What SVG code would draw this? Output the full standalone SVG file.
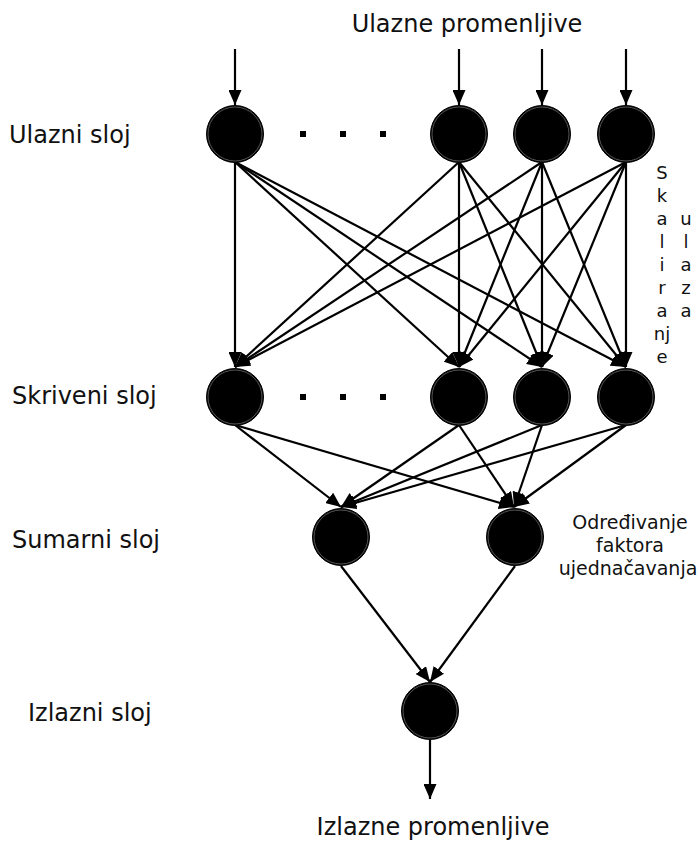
<svg xmlns="http://www.w3.org/2000/svg" width="700" height="842" viewBox="0 0 700 842">
<style>
text{font-family:"DejaVu Sans","Verdana",sans-serif;fill:#111}
.lbl{font-size:24px}
.small{font-size:19px}
.vert{font-size:18px;text-anchor:middle}
.edge{stroke:#000;stroke-width:2.2;fill:none;marker-end:url(#ah)}
.node{fill:#000;stroke:#000;stroke-width:1}
.ring{fill:none;stroke:#6a6a6a;stroke-width:0.8}
.dot{fill:#000}
</style>
<defs>
<marker id="ah" viewBox="0 0 15 13" refX="15" refY="6.5" markerWidth="15" markerHeight="13" markerUnits="userSpaceOnUse" orient="auto">
<path d="M0,0 L15,6.5 L0,13 z" fill="#000"/>
</marker>
</defs>
<g id="labels">
<text class="lbl" x="467" y="32" text-anchor="middle">Ulazne promenljive</text>
<text class="lbl" x="9" y="143">Ulazni sloj</text>
<text class="lbl" x="12" y="404">Skriveni sloj</text>
<text class="lbl" x="12" y="548">Sumarni sloj</text>
<text class="lbl" x="28" y="721">Izlazni sloj</text>
<text class="lbl" x="433" y="835" text-anchor="middle">Izlazne promenljive</text>
<g id="scaling">
<text class="vert" x="662" y="179">S</text>
<text class="vert" x="662" y="202">k</text>
<text class="vert" x="662" y="225">a</text>
<text class="vert" x="662" y="248">l</text>
<text class="vert" x="662" y="271">i</text>
<text class="vert" x="662" y="294">r</text>
<text class="vert" x="662" y="317">a</text>
<text class="vert" x="662" y="340">nj</text>
<text class="vert" x="662" y="363">e</text>
<text class="vert" x="686" y="225">u</text>
<text class="vert" x="686" y="248">l</text>
<text class="vert" x="686" y="271">a</text>
<text class="vert" x="686" y="294">z</text>
<text class="vert" x="686" y="317">a</text>
</g>
<g id="smoothing" text-anchor="middle">
<text class="small" x="630" y="529">Određivanje</text>
<text class="small" x="630" y="552">faktora</text>
<text class="small" x="628" y="575">ujednačavanja</text>
</g>
</g>
<g id="connectors">
<line class="edge" x1="235" y1="49" x2="235" y2="105"/>
<line class="edge" x1="459" y1="49" x2="459" y2="105"/>
<line class="edge" x1="542" y1="49" x2="542" y2="105"/>
<line class="edge" x1="626" y1="49" x2="626" y2="105"/>
<line class="edge" x1="235" y1="162" x2="235" y2="367"/>
<line class="edge" x1="235" y1="162" x2="459" y2="367"/>
<line class="edge" x1="235" y1="162" x2="542" y2="367"/>
<line class="edge" x1="235" y1="162" x2="626" y2="367"/>
<line class="edge" x1="459" y1="162" x2="235" y2="367"/>
<line class="edge" x1="459" y1="162" x2="459" y2="367"/>
<line class="edge" x1="459" y1="162" x2="542" y2="367"/>
<line class="edge" x1="459" y1="162" x2="626" y2="367"/>
<line class="edge" x1="542" y1="162" x2="235" y2="367"/>
<line class="edge" x1="542" y1="162" x2="459" y2="367"/>
<line class="edge" x1="542" y1="162" x2="542" y2="367"/>
<line class="edge" x1="542" y1="162" x2="626" y2="367"/>
<line class="edge" x1="626" y1="162" x2="235" y2="367"/>
<line class="edge" x1="626" y1="162" x2="459" y2="367"/>
<line class="edge" x1="626" y1="162" x2="542" y2="367"/>
<line class="edge" x1="626" y1="162" x2="626" y2="367"/>
<line class="edge" x1="235" y1="425" x2="341" y2="507"/>
<line class="edge" x1="235" y1="425" x2="514" y2="507"/>
<line class="edge" x1="459" y1="425" x2="341" y2="507"/>
<line class="edge" x1="459" y1="425" x2="514" y2="507"/>
<line class="edge" x1="542" y1="425" x2="341" y2="507"/>
<line class="edge" x1="542" y1="425" x2="514" y2="507"/>
<line class="edge" x1="626" y1="425" x2="341" y2="507"/>
<line class="edge" x1="626" y1="425" x2="514" y2="507"/>
<line class="edge" x1="341" y1="566" x2="430" y2="682"/>
<line class="edge" x1="515" y1="566" x2="430" y2="682"/>
<line class="edge" x1="430" y1="740" x2="430" y2="799"/>
</g>
<g id="in1"><circle class="node" cx="235" cy="134" r="28.5"/><circle class="ring" cx="235" cy="134" r="27"/></g>
<g id="in2"><circle class="node" cx="459" cy="134" r="28.5"/><circle class="ring" cx="459" cy="134" r="27"/></g>
<g id="in3"><circle class="node" cx="542" cy="134" r="28.5"/><circle class="ring" cx="542" cy="134" r="27"/></g>
<g id="in4"><circle class="node" cx="626" cy="134" r="28.5"/><circle class="ring" cx="626" cy="134" r="27"/></g>
<g id="in-dots"><rect class="dot" x="300" y="131" width="6" height="6"/><rect class="dot" x="340" y="131" width="6" height="6"/><rect class="dot" x="380" y="131" width="6" height="6"/></g>
<g id="h1"><circle class="node" cx="235" cy="397" r="28.5"/><circle class="ring" cx="235" cy="397" r="27"/></g>
<g id="h2"><circle class="node" cx="459" cy="397" r="28.5"/><circle class="ring" cx="459" cy="397" r="27"/></g>
<g id="h3"><circle class="node" cx="542" cy="397" r="28.5"/><circle class="ring" cx="542" cy="397" r="27"/></g>
<g id="h4"><circle class="node" cx="626" cy="397" r="28.5"/><circle class="ring" cx="626" cy="397" r="27"/></g>
<g id="h-dots"><rect class="dot" x="300" y="394" width="6" height="6"/><rect class="dot" x="340" y="394" width="6" height="6"/><rect class="dot" x="380" y="394" width="6" height="6"/></g>
<g id="s1"><circle class="node" cx="341" cy="537" r="28.5"/><circle class="ring" cx="341" cy="537" r="27"/></g>
<g id="s2"><circle class="node" cx="515" cy="537" r="28.5"/><circle class="ring" cx="515" cy="537" r="27"/></g>
<g id="out"><circle class="node" cx="430" cy="711" r="28.5"/><circle class="ring" cx="430" cy="711" r="27"/></g>
</svg>
